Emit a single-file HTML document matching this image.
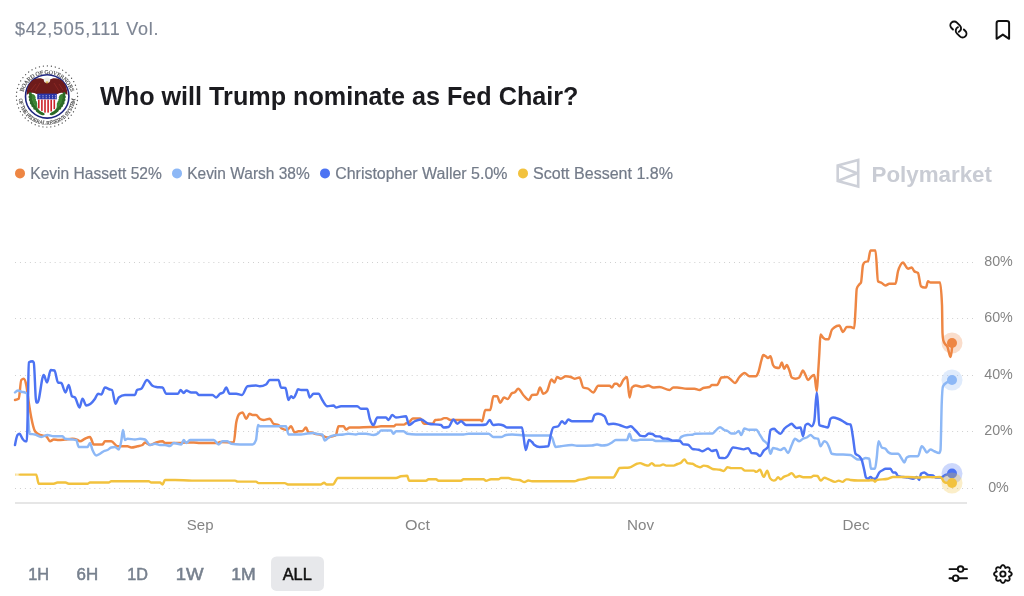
<!DOCTYPE html>
<html><head><meta charset="utf-8">
<style>
html,body{margin:0;padding:0;background:#fff;width:1024px;height:596px;overflow:hidden;}
svg{display:block;}
text{font-family:"Liberation Sans",sans-serif;}
svg{will-change:transform;}
.ax{font-size:14.3px;fill:#858585;}
.lg{font-size:15.8px;fill:#737B89;stroke:#737B89;stroke-width:0.2px;}
.btn{font-size:17.4px;font-weight:400;fill:#77808E;stroke:#77808E;stroke-width:0.55px;}
</style></head>
<body>
<svg width="1024" height="596" viewBox="0 0 1024 596">
<rect width="1024" height="596" fill="#fff"/>
<!-- volume -->
<text x="15" y="35.4" textLength="143.5" lengthAdjust="spacing" style="font-size:18px;fill:#7E8694;stroke:#7E8694;stroke-width:0.15px">$42,505,111 Vol.</text>
<!-- link icon -->
<g fill="none" stroke="#111" stroke-width="1.9" stroke-linecap="round" transform="translate(958.4,29.5) rotate(45)">
  <path d="M-3.8,3.85 h-2.15 a3.85,3.85 0 0 1 0,-7.7 h4.3 a3.85,3.85 0 0 1 3.596,5.228" />
  <path d="M3.8,-3.85 h2.15 a3.85,3.85 0 0 1 0,7.7 h-4.3 a3.85,3.85 0 0 1 -3.596,-5.228" />
</g>
<!-- bookmark -->
<path d="M996.6,38.8 V23.3 a2.3,2.3 0 0 1 2.3,-2.3 h7.9 a2.3,2.3 0 0 1 2.3,2.3 V38.8 l-6.25,-4.2 z" fill="none" stroke="#111" stroke-width="2" stroke-linejoin="round"/>
<!-- seal -->
<g id="seal">
  <circle cx="47" cy="96.5" r="31.5" fill="#fff"/>
  <circle cx="47" cy="96.5" r="30.6" fill="none" stroke="#555" stroke-width="1.35" stroke-dasharray="0.01 4.0" stroke-linecap="round"/>
  <defs>
    <path id="topArc" d="M22.8,103 A24.6,24.6 0 1 1 71.2,103"/>
    <path id="botArc" d="M18.8,96.5 A28.2,28.2 0 0 0 75.2,96.5"/>
  </defs>
  <text style="font-family:'Liberation Serif',serif;font-size:5.8px;font-weight:400;fill:#4a4a4a;stroke:#4a4a4a;stroke-width:0.15px"><textPath href="#topArc" startOffset="50%" text-anchor="middle" textLength="64" lengthAdjust="spacing">BOARD OF GOVERNORS</textPath></text>
  <text style="font-family:'Liberation Serif',serif;font-size:5.4px;font-weight:400;fill:#4a4a4a;stroke:#4a4a4a;stroke-width:0.15px"><textPath href="#botArc" startOffset="50%" text-anchor="middle" textLength="84" lengthAdjust="spacing">OF THE FEDERAL RESERVE SYSTEM</textPath></text>
  <circle cx="47.2" cy="96.4" r="21.7" fill="#fff" stroke="#1D2580" stroke-width="1.6"/>
  <!-- eagle wings -->
  <path d="M26.8,95 C26.5,88 29,82 34,79.5 C38,77.8 42,78 44.5,80 L47,82 L49.5,80 C52,78 56,77.8 60,79.5 C65,82 67.6,88 67.3,95 C64.5,92.5 61,92 57.5,94 L36.5,94 C33,92 29.5,92.5 26.8,95 Z" fill="#6E1B1B"/>
  <path d="M31,90 L36,84 M35,91 L40,83 M59,84 L63,90 M54,83 L59,91" stroke="#8E2A24" stroke-width="0.8" fill="none"/>
  <ellipse cx="47" cy="80.2" rx="3.1" ry="2.7" fill="#F1EEE6"/>
  <path d="M45.5,81.5 L47,84 L48.5,81.5Z" fill="#D8B040"/>
  <!-- branches -->
  <g>
    <ellipse cx="30.69" cy="94.66" rx="2.7" ry="1.6" fill="#2C6A27" transform="rotate(61.0 30.69 94.66)"/>
    <ellipse cx="30.65" cy="97.72" rx="2.7" ry="1.6" fill="#2C6A27" transform="rotate(50.4 30.65 97.72)"/>
    <ellipse cx="31.18" cy="100.74" rx="2.7" ry="1.6" fill="#2C6A27" transform="rotate(39.9 31.18 100.74)"/>
    <ellipse cx="32.24" cy="103.60" rx="2.7" ry="1.6" fill="#2C6A27" transform="rotate(29.3 32.24 103.60)"/>
    <ellipse cx="33.82" cy="106.22" rx="2.7" ry="1.6" fill="#2C6A27" transform="rotate(18.7 33.82 106.22)"/>
    <ellipse cx="35.85" cy="108.51" rx="2.7" ry="1.6" fill="#2C6A27" transform="rotate(8.1 35.85 108.51)"/>
    <ellipse cx="38.26" cy="110.39" rx="2.7" ry="1.6" fill="#2C6A27" transform="rotate(-2.4 38.26 110.39)"/>
    <ellipse cx="40.98" cy="111.79" rx="2.7" ry="1.6" fill="#2C6A27" transform="rotate(-13.0 40.98 111.79)"/>
    <ellipse cx="33.60" cy="96.40" rx="2.7" ry="1.6" fill="#3B8433" transform="rotate(55.0 33.60 96.40)"/>
    <ellipse cx="33.82" cy="98.84" rx="2.7" ry="1.6" fill="#3B8433" transform="rotate(44.7 33.82 98.84)"/>
    <ellipse cx="34.48" cy="101.20" rx="2.7" ry="1.6" fill="#3B8433" transform="rotate(34.3 34.48 101.20)"/>
    <ellipse cx="35.54" cy="103.40" rx="2.7" ry="1.6" fill="#3B8433" transform="rotate(24.0 35.54 103.40)"/>
    <ellipse cx="36.99" cy="105.38" rx="2.7" ry="1.6" fill="#3B8433" transform="rotate(13.7 36.99 105.38)"/>
    <ellipse cx="38.76" cy="107.07" rx="2.7" ry="1.6" fill="#3B8433" transform="rotate(3.3 38.76 107.07)"/>
    <ellipse cx="40.82" cy="108.41" rx="2.7" ry="1.6" fill="#3B8433" transform="rotate(-7.0 40.82 108.41)"/>
    <ellipse cx="63.71" cy="94.66" rx="2.7" ry="1.6" fill="#2C6A27" transform="rotate(-61.0 63.71 94.66)"/>
    <ellipse cx="63.75" cy="97.72" rx="2.7" ry="1.6" fill="#2C6A27" transform="rotate(-50.4 63.75 97.72)"/>
    <ellipse cx="63.22" cy="100.74" rx="2.7" ry="1.6" fill="#2C6A27" transform="rotate(-39.9 63.22 100.74)"/>
    <ellipse cx="62.16" cy="103.60" rx="2.7" ry="1.6" fill="#2C6A27" transform="rotate(-29.3 62.16 103.60)"/>
    <ellipse cx="60.58" cy="106.22" rx="2.7" ry="1.6" fill="#2C6A27" transform="rotate(-18.7 60.58 106.22)"/>
    <ellipse cx="58.55" cy="108.51" rx="2.7" ry="1.6" fill="#2C6A27" transform="rotate(-8.1 58.55 108.51)"/>
    <ellipse cx="56.14" cy="110.39" rx="2.7" ry="1.6" fill="#2C6A27" transform="rotate(2.4 56.14 110.39)"/>
    <ellipse cx="53.42" cy="111.79" rx="2.7" ry="1.6" fill="#2C6A27" transform="rotate(13.0 53.42 111.79)"/>
    <ellipse cx="60.80" cy="96.40" rx="2.7" ry="1.6" fill="#3B8433" transform="rotate(-55.0 60.80 96.40)"/>
    <ellipse cx="60.58" cy="98.84" rx="2.7" ry="1.6" fill="#3B8433" transform="rotate(-44.7 60.58 98.84)"/>
    <ellipse cx="59.92" cy="101.20" rx="2.7" ry="1.6" fill="#3B8433" transform="rotate(-34.3 59.92 101.20)"/>
    <ellipse cx="58.86" cy="103.40" rx="2.7" ry="1.6" fill="#3B8433" transform="rotate(-24.0 58.86 103.40)"/>
    <ellipse cx="57.41" cy="105.38" rx="2.7" ry="1.6" fill="#3B8433" transform="rotate(-13.7 57.41 105.38)"/>
    <ellipse cx="55.64" cy="107.07" rx="2.7" ry="1.6" fill="#3B8433" transform="rotate(-3.3 55.64 107.07)"/>
    <ellipse cx="53.58" cy="108.41" rx="2.7" ry="1.6" fill="#3B8433" transform="rotate(7.0 53.58 108.41)"/>
    <ellipse cx="42" cy="113.6" rx="2.8" ry="1.5" fill="#2C6A27" transform="rotate(15 42 113.6)"/>
    <ellipse cx="52.4" cy="113.6" rx="2.8" ry="1.5" fill="#2C6A27" transform="rotate(-15 52.4 113.6)"/>
    <ellipse cx="38.5" cy="111.5" rx="2.8" ry="1.5" fill="#2C6A27" transform="rotate(35 38.5 111.5)"/>
    <ellipse cx="55.9" cy="111.5" rx="2.8" ry="1.5" fill="#2C6A27" transform="rotate(-35 55.9 111.5)"/>
  </g>
  <!-- shield -->
  <path d="M37.2,93.6 H56.8 V99.6 H37.2 Z" fill="#2A35A8"/>
  <path d="M37.2,99.6 H56.8 V106 C56.8,110 52.5,112.5 47,113.6 C41.5,112.5 37.2,110 37.2,106 Z" fill="#fff"/>
  <g fill="#CC2229">
    <rect x="38" y="99.6" width="1.6" height="8.8"/>
    <rect x="41.1" y="99.6" width="1.6" height="11.3"/>
    <rect x="44.2" y="99.6" width="1.6" height="13"/>
    <rect x="47.3" y="99.6" width="1.6" height="13"/>
    <rect x="50.4" y="99.6" width="1.6" height="11.8"/>
    <rect x="53.5" y="99.6" width="1.6" height="9.5"/>
  </g>
  <g fill="#E8E8F4">
    <circle cx="39.8" cy="95.7" r="0.55"/><circle cx="43" cy="95.7" r="0.55"/><circle cx="46.2" cy="95.7" r="0.55"/><circle cx="49.4" cy="95.7" r="0.55"/><circle cx="52.6" cy="95.7" r="0.55"/><circle cx="55.4" cy="95.7" r="0.55"/>
    <circle cx="39.8" cy="97.8" r="0.55"/><circle cx="43" cy="97.8" r="0.55"/><circle cx="46.2" cy="97.8" r="0.55"/><circle cx="49.4" cy="97.8" r="0.55"/><circle cx="52.6" cy="97.8" r="0.55"/><circle cx="55.4" cy="97.8" r="0.55"/>
  </g>
</g>
<!-- title -->
<text x="100" y="105.3" textLength="478.5" lengthAdjust="spacingAndGlyphs" style="word-spacing:0px;font-size:26.2px;font-weight:700;fill:#1B1B1F">Who will Trump nominate as Fed Chair?</text>
<!-- legend -->
<circle cx="20" cy="173.4" r="5" fill="#EE8643"/>
<text x="30.3" y="178.6" class="lg" textLength="131.5" lengthAdjust="spacingAndGlyphs">Kevin Hassett 52%</text>
<circle cx="177" cy="173.4" r="5" fill="#8DB8F6"/>
<text x="187.2" y="178.6" class="lg" textLength="122.5" lengthAdjust="spacingAndGlyphs">Kevin Warsh 38%</text>
<circle cx="325" cy="173.4" r="5" fill="#4C73F3"/>
<text x="335.2" y="178.6" class="lg" textLength="172.3" lengthAdjust="spacingAndGlyphs">Christopher Waller 5.0%</text>
<circle cx="523" cy="173.4" r="5" fill="#F2C23E"/>
<text x="533" y="178.6" class="lg" textLength="140" lengthAdjust="spacingAndGlyphs">Scott Bessent 1.8%</text>
<!-- polymarket logo -->
<g fill="none" stroke="#CDD0D8" stroke-width="2.6" stroke-linejoin="miter">
  <path d="M837.7,165.6 L858.2,160 L858.2,186.6 L837.7,181 Z"/>
  <path d="M837.7,165.6 L857,173.3 L837.7,181" stroke-linejoin="bevel"/>
</g>
<text x="871.5" y="181.6" textLength="120.5" lengthAdjust="spacingAndGlyphs" style="font-size:22.6px;font-weight:700;fill:#C9CCD4">Polymarket</text>
<line x1="15" y1="262.5" x2="975" y2="262.5" stroke="#D0D0D0" stroke-width="1" stroke-dasharray="1 3.9586"/>
<text x="998.5" y="266.4" text-anchor="middle" class="ax">80%</text>
<line x1="15" y1="318.5" x2="975" y2="318.5" stroke="#D0D0D0" stroke-width="1" stroke-dasharray="1 3.9586"/>
<text x="998.5" y="322.4" text-anchor="middle" class="ax">60%</text>
<line x1="15" y1="375.5" x2="975" y2="375.5" stroke="#D0D0D0" stroke-width="1" stroke-dasharray="1 3.9586"/>
<text x="998.5" y="379.4" text-anchor="middle" class="ax">40%</text>
<line x1="15" y1="431.5" x2="975" y2="431.5" stroke="#D0D0D0" stroke-width="1" stroke-dasharray="1 3.9586"/>
<text x="998.5" y="435.4" text-anchor="middle" class="ax">20%</text>
<line x1="15" y1="488.5" x2="975" y2="488.5" stroke="#D0D0D0" stroke-width="1" stroke-dasharray="1 3.9586"/>
<text x="998.5" y="492.4" text-anchor="middle" class="ax">0%</text>
<rect x="15" y="502" width="952" height="2" fill="#E6E6E6"/>
<text x="186.8" y="530" textLength="26.7" lengthAdjust="spacingAndGlyphs" class="ax">Sep</text>
<text x="405.1" y="530" textLength="25.0" lengthAdjust="spacingAndGlyphs" class="ax">Oct</text>
<text x="627.1" y="530" textLength="27.0" lengthAdjust="spacingAndGlyphs" class="ax">Nov</text>
<text x="842.5" y="530" textLength="27.0" lengthAdjust="spacingAndGlyphs" class="ax">Dec</text>
<path d="M15.00,400.00 C16.25,399.79 17.50,399.58 18.75,398.75 C19.58,398.19 20.42,380.83 21.25,380.00 C22.08,379.17 22.92,378.75 23.75,378.75 C24.58,378.75 25.42,381.04 26.25,385.00 C27.08,388.96 27.92,397.08 28.75,402.50 C29.58,407.92 30.42,413.28 31.25,417.50 C32.50,423.83 33.75,429.38 35.00,431.25 C36.67,433.75 38.33,434.33 40.00,435.00 C42.08,435.83 44.17,435.42 46.25,436.25 C47.50,436.75 48.75,441.25 50.00,441.25 C51.25,441.25 52.50,439.50 53.75,439.50 C55.42,439.50 57.08,440.00 58.75,440.00 C60.83,440.00 62.92,439.69 65.00,439.50 C67.50,439.28 70.00,438.75 72.50,438.75 C74.17,438.75 75.83,439.31 77.50,440.00 C78.33,440.35 79.17,441.25 80.00,441.25 C81.67,441.25 83.33,439.46 85.00,438.75 C86.67,438.04 88.33,437.00 90.00,437.00 C91.25,437.00 92.50,444.50 93.75,444.50 C96.67,444.50 99.58,444.50 102.50,444.50 C103.33,444.50 104.17,441.25 105.00,441.25 C107.08,441.25 109.17,441.25 111.25,441.25 C113.33,441.25 115.42,446.25 117.50,446.25 C120.83,446.25 124.17,446.25 127.50,446.25 C128.75,446.25 130.00,447.50 131.25,447.50 C133.33,447.50 135.42,446.72 137.50,446.25 C139.17,445.87 140.83,445.83 142.50,445.00 C143.33,444.58 144.17,442.50 145.00,442.50 C146.67,442.50 148.33,445.00 150.00,445.00 C152.08,445.00 154.17,443.12 156.25,442.50 C158.33,441.88 160.42,441.25 162.50,441.25 C163.33,441.25 164.17,443.00 165.00,443.00 C170.00,443.00 175.00,443.00 180.00,443.00 C181.67,443.00 183.33,442.50 185.00,442.50 C187.92,442.50 190.83,442.50 193.75,442.50 C195.83,442.50 197.92,443.00 200.00,443.00 C205.83,443.00 211.67,443.00 217.50,443.00 C218.33,443.00 219.17,442.00 220.00,442.00 C224.58,442.00 229.17,442.50 233.75,442.50 C234.58,442.50 235.42,426.99 236.25,422.50 C237.33,416.67 238.42,414.65 239.50,413.75 C240.50,412.92 241.50,412.50 242.50,412.50 C243.75,412.50 245.00,418.75 246.25,418.75 C247.33,418.75 248.42,413.75 249.50,413.75 C250.50,413.75 251.50,415.00 252.50,415.00 C253.67,415.00 254.83,415.00 256.00,415.00 C257.25,415.00 258.50,417.92 259.75,418.75 C261.00,419.58 262.25,420.00 263.50,420.00 C265.58,420.00 267.67,418.75 269.75,418.75 C271.00,418.75 272.25,423.12 273.50,423.75 C275.17,424.58 276.83,424.17 278.50,425.00 C279.75,425.62 281.00,428.12 282.25,428.75 C283.92,429.58 285.58,430.00 287.25,430.00 C288.50,430.00 289.75,426.25 291.00,426.25 C292.25,426.25 293.50,432.50 294.75,432.50 C296.00,432.50 297.25,431.25 298.50,431.25 C299.75,431.25 301.00,431.25 302.25,431.25 C303.50,431.25 304.75,427.50 306.00,427.50 C306.83,427.50 307.67,432.50 308.50,432.50 C309.50,432.50 310.50,432.50 311.50,432.50 C312.58,432.50 313.67,433.40 314.75,433.75 C316.83,434.42 318.92,434.38 321.00,435.00 C323.08,435.62 325.17,437.50 327.25,437.50 C328.92,437.50 330.58,436.75 332.25,436.25 C333.50,435.88 334.75,435.83 336.00,435.00 C336.42,434.72 336.83,431.46 337.25,430.00 C337.67,428.54 338.08,426.25 338.50,426.25 C340.17,426.25 341.83,426.25 343.50,426.25 C344.33,426.25 345.17,429.50 346.00,429.50 C347.25,429.50 348.50,427.50 349.75,427.50 C351.83,427.50 353.92,427.50 356.00,427.50 C361.00,427.50 366.00,427.00 371.00,427.00 C372.67,427.00 374.33,427.00 376.00,427.00 C377.67,427.00 379.33,426.25 381.00,426.25 C382.00,426.25 383.00,426.25 384.00,426.25 C387.33,426.25 390.67,426.25 394.00,426.25 C394.62,426.25 395.25,424.62 395.88,424.62 C398.58,424.62 401.29,424.62 404.00,424.62 C404.83,424.62 405.67,423.48 406.50,423.12 C407.33,422.77 408.17,422.92 409.00,422.50 C410.25,421.88 411.50,418.50 412.75,418.50 C415.25,418.50 417.75,418.50 420.25,418.50 C421.50,418.50 422.75,423.75 424.00,423.75 C426.92,423.75 429.83,423.75 432.75,423.75 C433.58,423.75 434.42,420.17 435.25,420.00 C437.33,419.58 439.42,419.79 441.50,419.38 C442.33,419.21 443.17,418.12 444.00,418.12 C444.83,418.12 445.67,418.12 446.50,418.12 C447.75,418.12 449.00,420.00 450.25,420.00 C460.25,420.00 470.25,420.00 480.25,420.00 C480.88,420.00 481.50,421.25 482.12,421.25 C483.17,421.25 484.21,410.00 485.25,410.00 C486.92,410.00 488.58,410.00 490.25,410.00 C491.29,410.00 492.33,396.25 493.38,396.25 C494.62,396.25 495.88,396.25 497.12,396.25 C498.17,396.25 499.21,402.75 500.25,402.75 C501.50,402.75 502.75,397.50 504.00,397.50 C505.25,397.50 506.50,399.00 507.75,399.00 C509.17,399.00 510.58,393.83 512.00,393.12 C512.83,392.71 513.67,392.92 514.50,392.50 C515.75,391.88 517.00,388.75 518.25,388.75 C519.92,388.75 521.58,393.21 523.25,395.00 C525.17,397.06 527.08,400.00 529.00,400.00 C530.00,400.00 531.00,395.20 532.00,395.00 C533.67,394.67 535.33,394.83 537.00,394.50 C538.00,394.30 539.00,387.50 540.00,387.50 C541.08,387.50 542.17,393.75 543.25,393.75 C544.50,393.75 545.75,392.92 547.00,391.25 C548.50,389.25 550.00,379.50 551.50,379.50 C552.50,379.50 553.50,382.50 554.50,382.50 C555.33,382.50 556.17,377.00 557.00,377.00 C558.25,377.00 559.50,378.75 560.75,378.75 C562.42,378.75 564.08,376.25 565.75,376.25 C567.42,376.25 569.08,376.50 570.75,377.00 C572.00,377.38 573.25,378.75 574.50,378.75 C576.17,378.75 577.83,377.50 579.50,377.50 C580.75,377.50 582.00,386.88 583.25,387.50 C584.92,388.33 586.58,387.92 588.25,388.75 C589.92,389.58 591.58,392.50 593.25,392.50 C594.92,392.50 596.58,385.75 598.25,385.75 C602.00,385.75 605.75,385.75 609.50,385.75 C610.33,385.75 611.17,387.50 612.00,387.50 C612.83,387.50 613.67,383.75 614.50,383.75 C615.33,383.75 616.17,383.75 617.00,383.75 C617.83,383.75 618.67,386.25 619.50,386.25 C620.75,386.25 622.00,381.54 623.25,380.00 C624.50,378.46 625.75,377.00 627.00,377.00 C627.83,377.00 628.67,397.50 629.50,397.50 C630.33,397.50 631.17,388.39 632.00,387.50 C633.25,386.17 634.50,385.50 635.75,385.50 C637.83,385.50 639.92,387.00 642.00,387.00 C644.08,387.00 646.17,385.50 648.25,385.50 C649.92,385.50 651.58,387.50 653.25,387.50 C655.33,387.50 657.42,387.00 659.50,387.00 C662.83,387.00 666.17,390.00 669.50,390.00 C670.75,390.00 672.00,387.50 673.25,387.50 C674.50,387.50 675.75,387.50 677.00,387.50 C680.33,387.50 683.67,388.75 687.00,388.75 C689.50,388.75 692.00,388.75 694.50,388.75 C696.17,388.75 697.83,390.00 699.50,390.00 C700.75,390.00 702.00,388.40 703.25,388.00 C705.33,387.33 707.42,387.67 709.50,387.00 C710.33,386.73 711.17,385.00 712.00,385.00 C713.67,385.00 715.33,385.00 717.00,385.00 C718.50,385.00 720.00,377.77 721.50,377.50 C723.33,377.17 725.17,377.00 727.00,377.00 C728.25,377.00 729.50,378.57 730.75,379.50 C732.17,380.55 733.58,383.00 735.00,383.00 C736.50,383.00 738.00,378.62 739.50,377.00 C741.17,375.20 742.83,373.00 744.50,373.00 C746.17,373.00 747.83,376.25 749.50,376.25 C751.58,376.25 753.67,376.25 755.75,376.25 C756.58,376.25 757.42,374.60 758.25,372.50 C759.33,369.77 760.42,363.47 761.50,360.00 C762.08,358.13 762.67,355.00 763.25,355.00 C764.08,355.00 764.92,355.71 765.75,356.25 C766.50,356.73 767.25,358.00 768.00,358.00 C768.83,358.00 769.67,356.25 770.50,356.25 C771.33,356.25 772.17,363.33 773.00,365.00 C773.83,366.67 774.67,367.28 775.50,367.50 C776.75,367.83 778.00,368.00 779.25,368.00 C780.08,368.00 780.92,362.50 781.75,362.50 C782.58,362.50 783.42,368.75 784.25,368.75 C785.08,368.75 785.92,365.00 786.75,365.00 C787.58,365.00 788.42,367.92 789.25,370.00 C790.08,372.08 790.92,376.94 791.75,377.50 C793.00,378.33 794.25,378.75 795.50,378.75 C796.75,378.75 798.00,378.33 799.25,377.50 C800.50,376.67 801.75,370.50 803.00,370.50 C803.83,370.50 804.67,373.42 805.50,375.00 C806.33,376.58 807.17,380.00 808.00,380.00 C809.25,380.00 810.50,377.12 811.75,376.25 C812.58,375.67 813.42,375.00 814.25,375.00 C815.08,375.00 815.92,391.25 816.75,391.25 C817.17,391.25 817.58,381.04 818.00,375.00 C818.42,368.96 818.83,361.75 819.25,355.00 C819.67,348.25 820.08,334.50 820.50,334.50 C821.33,334.50 822.17,336.71 823.00,337.50 C823.83,338.29 824.67,339.25 825.50,339.25 C826.50,339.25 827.50,339.25 828.50,339.25 C829.58,339.25 830.67,331.95 831.75,330.00 C832.58,328.50 833.42,328.17 834.25,327.50 C835.92,326.17 837.58,325.50 839.25,325.50 C840.50,325.50 841.75,332.00 843.00,332.00 C844.25,332.00 845.50,327.00 846.75,327.00 C848.00,327.00 849.25,327.00 850.50,327.00 C851.75,327.00 853.00,328.25 854.25,328.25 C854.67,328.25 855.08,316.58 855.50,310.00 C855.92,303.42 856.33,290.17 856.75,288.75 C857.58,285.92 858.42,285.64 859.25,284.50 C859.83,283.70 860.42,283.83 861.00,282.50 C861.67,280.98 862.33,267.00 863.00,265.00 C863.67,263.00 864.33,262.33 865.00,262.00 C866.00,261.50 867.00,261.75 868.00,261.25 C868.83,260.83 869.67,250.50 870.50,250.50 C872.17,250.50 873.83,250.50 875.50,250.50 C876.33,250.50 877.17,280.47 878.00,281.25 C879.25,282.42 880.50,282.29 881.75,283.00 C883.00,283.71 884.25,285.50 885.50,285.50 C886.75,285.50 888.00,283.75 889.25,283.75 C891.33,283.75 893.42,283.75 895.50,283.75 C896.33,283.75 897.17,274.38 898.00,271.25 C898.83,268.12 899.67,266.46 900.50,265.00 C901.33,263.54 902.17,262.50 903.00,262.50 C903.67,262.50 904.33,264.17 905.00,265.00 C906.00,266.25 907.00,268.75 908.00,268.75 C909.25,268.75 910.50,267.50 911.75,267.50 C912.58,267.50 913.42,270.47 914.25,271.25 C915.50,272.42 916.75,271.83 918.00,273.00 C919.00,273.93 920.00,285.48 921.00,286.25 C922.08,287.08 923.17,287.50 924.25,287.50 C924.83,287.50 925.42,287.50 926.00,287.50 C926.67,287.50 927.33,281.25 928.00,281.25 C928.83,281.25 929.67,282.50 930.50,282.50 C931.75,282.50 933.00,282.50 934.25,282.50 C936.17,282.50 938.08,282.50 940.00,282.50 C940.67,282.50 941.33,290.00 942.00,305.00 C942.17,308.75 942.33,329.67 942.50,333.00 C942.73,337.67 942.97,339.09 943.20,340.00 C943.97,343.00 944.73,343.29 945.50,344.50 C946.17,345.55 946.83,345.61 947.50,347.00 C948.50,349.08 949.50,357.00 950.50,357.00 C951.00,357.00 951.50,354.00 952.00,348.00 C952.02,347.80 952.03,345.40 952.05,343.00" fill="none" stroke="#EE8643" stroke-width="2.45" stroke-linejoin="round" stroke-linecap="round"/>
<circle cx="952" cy="343" r="10.5" fill="rgba(238,134,67,0.28)"/>
<circle cx="952" cy="343" r="5" fill="#EE8643"/>
<path d="M15.00,392.50 C16.00,391.50 17.00,390.50 18.00,390.50 C19.08,390.50 20.17,391.43 21.25,391.75 C22.50,392.12 23.75,392.00 25.00,392.50 C25.67,392.77 26.33,392.92 27.00,393.75 C27.33,394.17 27.67,406.86 28.00,412.50 C28.50,420.96 29.00,433.61 29.50,433.75 C31.33,434.25 33.17,434.02 35.00,434.50 C37.08,435.04 39.17,437.00 41.25,437.00 C43.33,437.00 45.42,435.00 47.50,435.00 C49.58,435.00 51.67,436.25 53.75,436.25 C56.67,436.25 59.58,436.25 62.50,436.25 C63.33,436.25 64.17,438.58 65.00,438.75 C67.50,439.25 70.00,439.19 72.50,439.50 C73.75,439.65 75.00,439.67 76.25,440.00 C77.08,440.22 77.92,447.00 78.75,447.00 C81.67,447.00 84.58,447.00 87.50,447.00 C88.33,447.00 89.17,443.00 90.00,443.00 C90.83,443.00 91.67,448.11 92.50,450.00 C93.75,452.83 95.00,455.50 96.25,455.50 C97.50,455.50 98.75,454.46 100.00,453.75 C101.25,453.04 102.50,451.88 103.75,451.25 C105.00,450.62 106.25,450.62 107.50,450.00 C108.75,449.38 110.00,447.83 111.25,447.50 C112.50,447.17 113.75,447.00 115.00,447.00 C116.25,447.00 117.50,449.50 118.75,449.50 C119.58,449.50 120.42,445.53 121.25,441.25 C121.83,438.25 122.42,430.00 123.00,430.00 C123.67,430.00 124.33,440.00 125.00,440.00 C125.83,440.00 126.67,438.75 127.50,438.75 C130.00,438.75 132.50,439.50 135.00,439.50 C136.67,439.50 138.33,438.75 140.00,438.75 C141.67,438.75 143.33,439.00 145.00,439.50 C146.67,440.00 148.33,445.00 150.00,445.00 C151.67,445.00 153.33,443.75 155.00,443.75 C156.67,443.75 158.33,445.00 160.00,445.00 C161.67,445.00 163.33,445.00 165.00,445.00 C166.67,445.00 168.33,446.00 170.00,446.00 C171.25,446.00 172.50,443.00 173.75,443.00 C176.25,443.00 178.75,444.50 181.25,444.50 C182.08,444.50 182.92,440.00 183.75,440.00 C184.58,440.00 185.42,443.00 186.25,443.00 C187.50,443.00 188.75,440.00 190.00,440.00 C192.50,440.00 195.00,440.00 197.50,440.00 C202.92,440.00 208.33,440.00 213.75,440.00 C215.42,440.00 217.08,444.50 218.75,444.50 C220.00,444.50 221.25,441.25 222.50,441.25 C224.17,441.25 225.83,441.25 227.50,441.25 C228.75,441.25 230.00,443.54 231.25,443.75 C234.17,444.25 237.08,444.50 240.00,444.50 C244.17,444.50 248.33,444.50 252.50,444.50 C253.67,444.50 254.83,443.00 256.00,440.00 C256.67,438.29 257.33,425.00 258.00,425.00 C258.58,425.00 259.17,426.25 259.75,426.25 C261.83,426.25 263.92,426.25 266.00,426.25 C272.67,426.25 279.33,426.25 286.00,426.25 C286.83,426.25 287.67,434.50 288.50,434.50 C292.67,434.50 296.83,434.50 301.00,434.50 C302.67,434.50 304.33,433.97 306.00,433.75 C308.50,433.43 311.00,433.00 313.50,433.00 C314.33,433.00 315.17,433.55 316.00,433.75 C318.08,434.25 320.17,434.00 322.25,434.50 C323.08,434.70 323.92,440.50 324.75,440.50 C326.00,440.50 327.25,438.31 328.50,437.50 C331.00,435.89 333.50,435.33 336.00,435.00 C338.50,434.67 341.00,434.79 343.50,434.50 C345.17,434.31 346.83,433.75 348.50,433.75 C351.00,433.75 353.50,434.50 356.00,434.50 C356.83,434.50 357.67,433.75 358.50,433.75 C361.00,433.75 363.50,433.75 366.00,433.75 C368.50,433.75 371.00,435.00 373.50,435.00 C375.17,435.00 376.83,434.33 378.50,433.00 C379.33,432.33 380.17,430.50 381.00,430.50 C384.33,430.50 387.67,430.50 391.00,430.50 C391.83,430.50 392.67,433.75 393.50,433.75 C394.33,433.75 395.17,431.25 396.00,431.25 C398.50,431.25 401.00,431.25 403.50,431.25 C404.75,431.25 406.00,433.54 407.25,433.75 C410.17,434.25 413.08,434.50 416.00,434.50 C421.00,434.50 426.00,434.50 431.00,434.50 C435.17,434.50 439.33,434.50 443.50,434.50 C447.67,434.50 451.83,434.50 456.00,434.50 C458.50,434.50 461.00,434.50 463.50,434.50 C465.17,434.50 466.83,433.75 468.50,433.75 C475.17,433.75 481.83,433.75 488.50,433.75 C490.17,433.75 491.83,437.00 493.50,437.00 C496.00,437.00 498.50,437.00 501.00,437.00 C502.67,437.00 504.33,435.28 506.00,435.00 C508.00,434.67 510.00,434.50 512.00,434.50 C517.00,434.50 522.00,435.50 527.00,435.50 C534.50,435.50 542.00,435.50 549.50,435.50 C550.33,435.50 551.17,436.26 552.00,437.50 C553.25,439.37 554.50,447.00 555.75,447.00 C557.42,447.00 559.08,446.48 560.75,446.25 C564.50,445.73 568.25,445.00 572.00,445.00 C573.67,445.00 575.33,445.75 577.00,445.75 C582.00,445.75 587.00,445.67 592.00,445.50 C593.67,445.44 595.33,444.50 597.00,444.50 C598.67,444.50 600.33,445.50 602.00,445.50 C603.67,445.50 605.33,445.33 607.00,445.00 C608.67,444.67 610.33,443.49 612.00,442.50 C613.25,441.76 614.50,440.00 615.75,440.00 C617.42,440.00 619.08,440.00 620.75,440.00 C622.83,440.00 624.92,440.00 627.00,440.00 C627.83,440.00 628.67,433.75 629.50,433.75 C630.33,433.75 631.17,439.83 632.00,440.00 C633.67,440.33 635.33,440.50 637.00,440.50 C638.00,440.50 639.00,439.75 640.00,439.75 C644.17,439.75 648.33,439.75 652.50,439.75 C653.54,439.75 654.58,441.00 655.62,441.00 C660.83,441.00 666.04,441.00 671.25,441.00 C673.75,441.00 676.25,440.75 678.75,440.25 C679.58,440.08 680.42,437.38 681.25,436.88 C683.33,435.62 685.42,435.21 687.50,435.00 C689.17,434.83 690.83,434.92 692.50,434.75 C693.33,434.67 694.17,433.77 695.00,433.75 C700.83,433.58 706.67,433.67 712.50,433.50 C713.33,433.48 714.17,431.97 715.00,431.25 C716.67,429.81 718.33,427.25 720.00,427.25 C721.46,427.25 722.92,429.35 724.38,430.00 C725.42,430.47 726.46,430.50 727.50,431.00 C728.75,431.60 730.00,433.50 731.25,433.50 C732.50,433.50 733.75,433.50 735.00,433.50 C736.25,433.50 737.50,431.00 738.75,431.00 C739.58,431.00 740.42,435.00 741.25,435.00 C742.29,435.00 743.33,428.50 744.38,428.50 C745.83,428.50 747.29,429.75 748.75,429.75 C751.25,429.75 753.75,429.75 756.25,429.75 C757.50,429.75 758.75,433.11 760.00,435.00 C761.04,436.57 762.08,438.57 763.12,440.00 C764.75,442.24 766.38,441.67 768.00,445.00 C768.83,446.71 769.67,453.75 770.50,453.75 C771.33,453.75 772.17,448.00 773.00,448.00 C774.25,448.00 775.50,448.42 776.75,448.75 C778.00,449.08 779.25,450.00 780.50,450.00 C781.75,450.00 783.00,448.00 784.25,448.00 C785.50,448.00 786.75,453.00 788.00,453.00 C789.25,453.00 790.50,447.53 791.75,445.00 C792.83,442.81 793.92,438.75 795.00,438.75 C796.42,438.75 797.83,441.25 799.25,441.25 C800.50,441.25 801.75,439.38 803.00,438.75 C804.25,438.12 805.50,438.12 806.75,437.50 C808.00,436.88 809.25,435.00 810.50,435.00 C811.75,435.00 813.00,437.50 814.25,438.00 C815.50,438.50 816.75,438.25 818.00,438.75 C818.83,439.08 819.67,446.25 820.50,446.25 C821.75,446.25 823.00,441.25 824.25,441.25 C825.08,441.25 825.92,441.67 826.75,442.50 C827.58,443.33 828.42,445.62 829.25,447.50 C830.08,449.38 830.92,453.50 831.75,453.75 C833.42,454.25 835.08,454.50 836.75,454.50 C838.83,454.50 840.92,454.50 843.00,454.50 C845.50,454.50 848.00,454.67 850.50,455.00 C851.75,455.17 853.00,456.75 854.25,457.50 C855.50,458.25 856.75,459.50 858.00,459.50 C859.25,459.50 860.50,459.50 861.75,459.50 C863.00,459.50 864.25,458.00 865.50,458.00 C866.75,458.00 868.00,458.25 869.25,458.75 C869.83,458.98 870.42,468.75 871.00,468.75 C872.33,468.75 873.67,468.75 875.00,468.75 C875.58,468.75 876.17,462.08 876.75,457.50 C877.33,452.92 877.92,441.25 878.50,441.25 C879.58,441.25 880.67,446.78 881.75,447.50 C883.00,448.33 884.25,447.92 885.50,448.75 C886.33,449.31 887.17,451.22 888.00,452.00 C889.25,453.17 890.50,453.75 891.75,453.75 C893.83,453.75 895.92,453.75 898.00,453.75 C899.25,453.75 900.50,456.96 901.75,458.75 C902.58,459.94 903.42,462.50 904.25,462.50 C905.08,462.50 905.92,458.06 906.75,457.50 C908.00,456.67 909.25,456.25 910.50,456.25 C913.00,456.25 915.50,456.25 918.00,456.25 C919.25,456.25 920.50,446.25 921.75,446.25 C922.58,446.25 923.42,447.71 924.25,448.75 C925.08,449.79 925.92,452.50 926.75,452.50 C928.00,452.50 929.25,449.50 930.50,449.50 C931.75,449.50 933.00,450.73 934.25,451.25 C935.92,451.94 937.58,453.00 939.25,453.00 C939.67,453.00 940.08,452.00 940.50,450.00 C940.92,448.00 941.33,413.12 941.75,402.50 C942.17,391.88 942.58,387.08 943.00,386.25 C944.25,383.75 945.50,383.48 946.75,382.50 C948.42,381.19 950.08,380.60 951.75,380.00" fill="none" stroke="#8DB8F6" stroke-width="2.45" stroke-linejoin="round" stroke-linecap="round"/>
<circle cx="952" cy="380" r="10.5" fill="rgba(141,184,246,0.28)"/>
<circle cx="952" cy="380" r="5" fill="#8DB8F6"/>
<path d="M15.00,445.00 C15.83,440.52 16.67,436.04 17.50,435.00 C18.17,434.17 18.83,433.75 19.50,433.75 C20.50,433.75 21.50,437.45 22.50,438.75 C23.33,439.84 24.17,441.25 25.00,441.25 C25.58,441.25 26.17,441.25 26.75,441.25 C27.17,441.25 27.58,418.18 28.00,400.00 C28.25,389.09 28.50,362.67 28.75,362.50 C30.00,361.67 31.25,361.25 32.50,361.25 C32.92,361.25 33.33,361.67 33.75,362.50 C34.58,364.17 35.42,402.50 36.25,402.50 C36.67,402.50 37.08,402.50 37.50,402.50 C39.58,402.50 41.67,375.00 43.75,375.00 C44.83,375.00 45.92,382.50 47.00,382.50 C48.25,382.50 49.50,370.00 50.75,370.00 C52.00,370.00 53.25,370.17 54.50,370.50 C55.67,370.81 56.83,382.14 58.00,382.50 C59.08,382.83 60.17,382.67 61.25,383.00 C62.67,383.44 64.08,392.50 65.50,392.50 C66.58,392.50 67.67,385.00 68.75,385.00 C69.83,385.00 70.92,395.35 72.00,396.25 C73.00,397.08 74.00,396.67 75.00,397.50 C76.50,398.75 78.00,407.50 79.50,407.50 C80.50,407.50 81.50,398.75 82.50,398.75 C83.75,398.75 85.00,405.50 86.25,405.50 C89.17,405.50 92.08,402.94 95.00,398.75 C96.00,397.31 97.00,393.75 98.00,393.75 C99.08,393.75 100.17,394.50 101.25,394.50 C102.50,394.50 103.75,387.50 105.00,387.50 C106.67,387.50 108.33,389.01 110.00,389.50 C110.67,389.70 111.33,389.67 112.00,390.00 C113.17,390.58 114.33,403.75 115.50,403.75 C116.58,403.75 117.67,398.37 118.75,397.50 C120.83,395.83 122.92,395.00 125.00,395.00 C128.33,395.00 131.67,395.00 135.00,395.00 C135.67,395.00 136.33,390.39 137.00,390.00 C138.42,389.17 139.83,389.58 141.25,388.75 C143.17,387.62 145.08,380.00 147.00,380.00 C148.83,380.00 150.67,384.61 152.50,385.75 C153.75,386.53 155.00,386.80 156.25,387.00 C158.33,387.33 160.42,387.17 162.50,387.50 C163.75,387.70 165.00,393.75 166.25,393.75 C170.17,393.75 174.08,393.75 178.00,393.75 C178.83,393.75 179.67,390.00 180.50,390.00 C181.58,390.00 182.67,393.00 183.75,393.00 C184.58,393.00 185.42,390.50 186.25,390.50 C187.92,390.50 189.58,392.50 191.25,392.50 C192.92,392.50 194.58,392.50 196.25,392.50 C197.08,392.50 197.92,395.00 198.75,395.00 C203.33,395.00 207.92,395.00 212.50,395.00 C213.75,395.00 215.00,397.50 216.25,397.50 C217.50,397.50 218.75,394.59 220.00,393.75 C221.08,393.02 222.17,393.33 223.25,392.50 C224.25,391.73 225.25,387.50 226.25,387.50 C227.33,387.50 228.42,393.75 229.50,393.75 C231.75,393.75 234.00,393.75 236.25,393.75 C238.17,393.75 240.08,395.00 242.00,395.00 C243.83,395.00 245.67,386.57 247.50,386.25 C250.33,385.75 253.17,385.50 256.00,385.50 C257.25,385.50 258.50,386.25 259.75,386.25 C261.83,386.25 263.92,385.67 266.00,384.50 C267.25,383.80 268.50,380.00 269.75,380.00 C272.67,380.00 275.58,380.00 278.50,380.00 C279.33,380.00 280.17,387.31 281.00,387.50 C282.50,387.83 284.00,387.67 285.50,388.00 C286.50,388.22 287.50,400.00 288.50,400.00 C289.33,400.00 290.17,396.25 291.00,396.25 C291.83,396.25 292.67,398.00 293.50,398.00 C294.33,398.00 295.17,395.42 296.00,393.75 C296.67,392.41 297.33,389.25 298.00,389.25 C299.00,389.25 300.00,390.00 301.00,390.00 C303.08,390.00 305.17,390.00 307.25,390.00 C308.08,390.00 308.92,397.50 309.75,397.50 C311.00,397.50 312.25,393.75 313.50,393.75 C315.17,393.75 316.83,393.75 318.50,393.75 C319.75,393.75 321.00,398.14 322.25,400.00 C323.92,402.48 325.58,406.25 327.25,406.25 C329.33,406.25 331.42,405.50 333.50,405.50 C334.33,405.50 335.17,407.50 336.00,407.50 C337.67,407.50 339.33,406.25 341.00,406.25 C346.42,406.25 351.83,406.25 357.25,406.25 C358.50,406.25 359.75,408.75 361.00,408.75 C363.08,408.75 365.17,408.75 367.25,408.75 C368.08,408.75 368.92,416.19 369.75,418.75 C371.00,422.58 372.25,425.00 373.50,425.00 C374.75,425.00 376.00,417.50 377.25,417.50 C380.17,417.50 383.08,417.50 386.00,417.50 C386.83,417.50 387.67,420.00 388.50,420.00 C389.75,420.00 391.00,415.00 392.25,415.00 C393.50,415.00 394.75,417.50 396.00,417.50 C399.33,417.50 402.67,416.25 406.00,416.25 C407.00,416.25 408.00,425.00 409.00,425.00 C410.92,425.00 412.83,422.16 414.75,421.25 C416.83,420.26 418.92,419.50 421.00,419.50 C423.50,419.50 426.00,423.25 428.50,423.75 C432.67,424.58 436.83,424.17 441.00,425.00 C441.83,425.17 442.67,427.50 443.50,427.50 C445.17,427.50 446.83,427.33 448.50,427.00 C450.17,426.67 451.83,419.50 453.50,419.50 C454.75,419.50 456.00,423.75 457.25,423.75 C458.50,423.75 459.75,421.25 461.00,421.25 C462.67,421.25 464.33,425.00 466.00,425.00 C471.00,425.00 476.00,425.00 481.00,425.00 C482.67,425.00 484.33,424.83 486.00,424.50 C487.25,424.25 488.50,420.00 489.75,420.00 C490.83,420.00 491.92,425.00 493.00,425.00 C494.83,425.00 496.67,424.50 498.50,424.50 C500.17,424.50 501.83,424.85 503.50,425.50 C504.75,425.99 506.00,427.50 507.25,427.50 C508.83,427.50 510.42,427.50 512.00,427.50 C515.33,427.50 518.67,427.50 522.00,427.50 C523.25,427.50 524.50,450.00 525.75,450.00 C526.83,450.00 527.92,440.00 529.00,440.00 C530.00,440.00 531.00,441.04 532.00,442.00 C532.83,442.80 533.67,444.33 534.50,445.00 C536.17,446.33 537.83,447.00 539.50,447.00 C542.42,447.00 545.33,446.75 548.25,446.25 C549.08,446.11 549.92,438.12 550.75,435.00 C551.58,431.88 552.42,427.92 553.25,427.50 C554.92,426.67 556.58,427.08 558.25,426.25 C559.50,425.62 560.75,421.25 562.00,421.25 C563.00,421.25 564.00,423.75 565.00,423.75 C566.08,423.75 567.17,419.50 568.25,419.50 C569.50,419.50 570.75,421.25 572.00,421.25 C578.67,421.25 585.33,421.25 592.00,421.25 C592.83,421.25 593.67,415.56 594.50,415.00 C595.75,414.17 597.00,413.75 598.25,413.75 C600.33,413.75 602.42,414.58 604.50,416.25 C605.75,417.25 607.00,424.25 608.25,424.25 C609.92,424.25 611.58,423.75 613.25,423.75 C615.33,423.75 617.42,424.46 619.50,425.00 C622.00,425.65 624.50,427.50 627.00,427.50 C628.25,427.50 629.50,426.25 630.75,426.25 C632.00,426.25 633.25,428.29 634.50,429.50 C636.17,431.11 637.83,432.94 639.50,435.00 C639.67,435.21 639.83,435.58 640.00,435.62 C641.67,436.04 643.33,436.25 645.00,436.25 C646.25,436.25 647.50,433.50 648.75,433.50 C650.00,433.50 651.25,433.67 652.50,434.00 C653.54,434.28 654.58,436.13 655.62,436.25 C657.08,436.42 658.54,436.33 660.00,436.50 C661.04,436.62 662.08,438.38 663.12,438.50 C664.58,438.67 666.04,438.58 667.50,438.75 C669.17,438.94 670.83,440.46 672.50,440.62 C675.00,440.88 677.50,440.75 680.00,441.00 C681.04,441.10 682.08,444.22 683.12,444.38 C684.79,444.62 686.46,444.50 688.12,444.75 C689.58,444.97 691.04,448.65 692.50,449.00 C694.58,449.50 696.67,449.25 698.75,449.75 C700.00,450.05 701.25,451.25 702.50,451.25 C704.38,451.25 706.25,448.50 708.12,448.50 C709.38,448.50 710.62,451.00 711.88,451.00 C713.33,451.00 714.79,450.00 716.25,450.00 C717.29,450.00 718.33,457.61 719.38,457.75 C721.25,458.00 723.12,458.12 725.00,458.12 C725.83,458.12 726.67,457.08 727.50,456.25 C729.38,454.38 731.25,447.50 733.12,447.50 C734.58,447.50 736.04,447.88 737.50,448.12 C739.58,448.47 741.67,449.38 743.75,449.38 C745.21,449.38 746.67,448.12 748.12,448.12 C749.38,448.12 750.62,452.91 751.88,453.12 C753.33,453.38 754.79,453.25 756.25,453.50 C757.50,453.71 758.75,456.00 760.00,456.00 C761.25,456.00 762.50,452.09 763.75,450.62 C765.17,448.96 766.58,449.38 768.00,446.88 C768.83,445.40 769.67,430.56 770.50,430.00 C771.75,429.17 773.00,428.75 774.25,428.75 C775.08,428.75 775.92,430.53 776.75,431.25 C778.00,432.33 779.25,433.75 780.50,433.75 C781.75,433.75 783.00,430.10 784.25,428.75 C785.92,426.94 787.58,425.97 789.25,425.00 C790.08,424.51 790.92,423.75 791.75,423.75 C792.58,423.75 793.42,425.54 794.25,426.25 C795.08,426.96 795.92,428.00 796.75,428.00 C798.00,428.00 799.25,427.50 800.50,427.50 C801.33,427.50 802.17,436.25 803.00,436.25 C803.83,436.25 804.67,425.83 805.50,425.00 C806.33,424.17 807.17,423.75 808.00,423.75 C809.25,423.75 810.50,426.25 811.75,426.25 C812.58,426.25 813.42,424.58 814.25,421.25 C815.08,417.92 815.92,392.50 816.75,392.50 C817.17,392.50 817.58,399.58 818.00,405.00 C818.42,410.42 818.83,424.72 819.25,425.00 C820.50,425.83 821.75,425.88 823.00,426.25 C824.67,426.75 826.33,427.50 828.00,427.50 C828.83,427.50 829.67,419.58 830.50,418.75 C831.33,417.92 832.17,417.50 833.00,417.50 C834.67,417.50 836.33,418.12 838.00,418.75 C839.67,419.38 841.33,420.26 843.00,421.25 C844.25,421.99 845.50,423.25 846.75,423.75 C848.00,424.25 849.25,424.00 850.50,424.50 C851.33,424.83 852.17,432.62 853.00,437.50 C853.83,442.38 854.67,452.64 855.50,453.75 C856.75,455.42 858.00,454.79 859.25,456.25 C860.08,457.22 860.92,457.71 861.75,460.00 C862.58,462.29 863.42,466.53 864.25,470.00 C864.83,472.43 865.42,476.77 866.00,477.50 C866.67,478.33 867.33,478.75 868.00,478.75 C868.83,478.75 869.67,477.00 870.50,477.00 C871.33,477.00 872.17,478.75 873.00,478.75 C873.83,478.75 874.67,478.75 875.50,478.75 C876.75,478.75 878.00,473.96 879.25,472.50 C880.50,471.04 881.75,470.71 883.00,470.00 C883.83,469.53 884.67,468.75 885.50,468.75 C887.17,468.75 888.83,468.75 890.50,468.75 C891.33,468.75 892.17,472.50 893.00,472.50 C893.83,472.50 894.67,472.50 895.50,472.50 C896.33,472.50 897.17,476.00 898.00,476.25 C899.67,476.75 901.33,476.79 903.00,477.00 C904.67,477.21 906.33,477.21 908.00,477.50 C909.67,477.79 911.33,478.75 913.00,478.75 C914.25,478.75 915.50,477.00 916.75,477.00 C917.58,477.00 918.42,480.00 919.25,480.00 C919.83,480.00 920.42,474.20 921.00,473.75 C922.08,472.92 923.17,472.50 924.25,472.50 C925.50,472.50 926.75,474.75 928.00,475.00 C929.67,475.33 931.33,475.17 933.00,475.50 C933.83,475.67 934.67,477.50 935.50,477.50 C937.17,477.50 938.83,477.50 940.50,477.50 C942.17,477.50 943.83,475.61 945.50,475.00 C947.58,474.24 949.67,473.99 951.75,473.75" fill="none" stroke="#4C73F3" stroke-width="2.45" stroke-linejoin="round" stroke-linecap="round"/>
<circle cx="952" cy="473.5" r="10.5" fill="rgba(76,115,243,0.28)"/>
<circle cx="952" cy="473.5" r="5" fill="#4C73F3"/>
<path d="M20.00,474.60 C25.42,474.60 30.83,474.60 36.25,474.60 C37.08,474.60 37.92,483.75 38.75,483.75 C43.75,483.75 48.75,483.75 53.75,483.75 C55.00,483.75 56.25,482.50 57.50,482.50 C60.17,482.50 62.83,482.50 65.50,482.50 C66.58,482.50 67.67,483.75 68.75,483.75 C75.00,483.75 81.25,483.75 87.50,483.75 C88.33,483.75 89.17,482.50 90.00,482.50 C96.25,482.50 102.50,482.50 108.75,482.50 C109.58,482.50 110.42,481.25 111.25,481.25 C123.75,481.25 136.25,481.25 148.75,481.25 C149.58,481.25 150.42,482.50 151.25,482.50 C154.17,482.50 157.08,482.50 160.00,482.50 C160.83,482.50 161.67,484.50 162.50,484.50 C163.33,484.50 164.17,480.00 165.00,480.00 C168.33,480.00 171.67,480.00 175.00,480.00 C180.67,480.00 186.33,480.60 192.00,480.60 C206.37,480.60 220.73,480.60 235.10,480.60 C235.93,480.60 236.77,481.60 237.60,481.60 C243.73,481.60 249.87,481.60 256.00,481.60 C256.83,481.60 257.67,483.10 258.50,483.10 C267.25,483.10 276.00,483.10 284.75,483.10 C285.80,483.10 286.85,484.40 287.90,484.40 C298.93,484.40 309.97,484.40 321.00,484.40 C322.03,484.40 323.07,482.75 324.10,482.75 C324.93,482.75 325.77,484.40 326.60,484.40 C328.70,484.40 330.80,484.40 332.90,484.40 C334.57,484.40 336.23,477.90 337.90,477.90 C353.27,477.90 368.63,477.90 384.00,477.90 C388.00,477.90 392.00,478.00 396.00,478.00 C397.67,478.00 399.33,476.52 401.00,476.25 C403.08,475.92 405.17,475.75 407.25,475.75 C407.83,475.75 408.42,480.75 409.00,480.75 C414.67,480.75 420.33,480.75 426.00,480.75 C426.83,480.75 427.67,479.25 428.50,479.25 C431.00,479.25 433.50,479.25 436.00,479.25 C436.83,479.25 437.67,480.75 438.50,480.75 C446.00,480.75 453.50,480.75 461.00,480.75 C461.83,480.75 462.67,479.25 463.50,479.25 C470.17,479.25 476.83,479.25 483.50,479.25 C484.33,479.25 485.17,480.75 486.00,480.75 C487.67,480.75 489.33,479.25 491.00,479.25 C493.50,479.25 496.00,479.25 498.50,479.25 C499.33,479.25 500.17,478.00 501.00,478.00 C503.50,478.00 506.00,478.00 508.50,478.00 C509.67,478.00 510.83,479.02 512.00,479.25 C514.50,479.75 517.00,479.50 519.50,480.00 C521.17,480.33 522.83,482.00 524.50,482.00 C525.75,482.00 527.00,480.50 528.25,480.50 C529.50,480.50 530.75,481.25 532.00,481.25 C546.17,481.25 560.33,481.25 574.50,481.25 C575.75,481.25 577.00,480.35 578.25,480.00 C580.75,479.31 583.25,479.44 585.75,478.75 C587.00,478.40 588.25,477.50 589.50,477.50 C597.42,477.50 605.33,477.50 613.25,477.50 C614.50,477.50 615.75,473.93 617.00,472.00 C617.83,470.71 618.67,468.08 619.50,468.00 C622.83,467.67 626.17,467.83 629.50,467.50 C632.00,467.25 634.50,464.48 637.00,463.75 C638.00,463.46 639.00,463.12 640.00,463.12 C641.67,463.12 643.33,464.55 645.00,465.00 C646.04,465.28 647.08,465.62 648.12,465.62 C649.38,465.62 650.62,463.12 651.88,463.12 C652.92,463.12 653.96,465.62 655.00,465.62 C656.67,465.62 658.33,465.62 660.00,465.62 C661.04,465.62 662.08,464.38 663.12,464.38 C664.17,464.38 665.21,465.62 666.25,465.62 C668.75,465.62 671.25,465.62 673.75,465.62 C675.00,465.62 676.25,464.52 677.50,464.00 C678.75,463.48 680.00,463.41 681.25,462.50 C682.29,461.74 683.33,459.38 684.38,459.38 C685.42,459.38 686.46,462.86 687.50,463.12 C689.17,463.54 690.83,463.33 692.50,463.75 C693.75,464.06 695.00,465.42 696.25,466.00 C697.50,466.58 698.75,467.25 700.00,467.25 C701.25,467.25 702.50,465.62 703.75,465.62 C705.00,465.62 706.25,465.84 707.50,466.25 C709.17,466.80 710.83,468.67 712.50,469.00 C715.00,469.50 717.50,469.25 720.00,469.75 C721.25,470.00 722.50,471.00 723.75,471.00 C725.00,471.00 726.25,467.25 727.50,467.25 C728.75,467.25 730.00,468.12 731.25,468.12 C734.58,468.12 737.92,468.12 741.25,468.12 C742.50,468.12 743.75,470.62 745.00,470.62 C747.92,470.62 750.83,470.62 753.75,470.62 C754.58,470.62 755.42,471.88 756.25,471.88 C757.50,471.88 758.75,469.75 760.00,469.75 C761.25,469.75 762.50,476.88 763.75,476.88 C764.92,476.88 766.08,470.62 767.25,470.62 C768.17,470.62 769.08,476.90 770.00,478.12 C771.25,479.79 772.50,480.62 773.75,480.62 C774.38,480.62 775.00,480.41 775.62,480.00 C776.46,479.45 777.29,477.25 778.12,477.25 C778.96,477.25 779.79,479.38 780.62,479.38 C781.67,479.38 782.71,477.52 783.75,476.88 C785.21,475.97 786.67,475.94 788.12,475.25 C789.38,474.65 790.62,473.12 791.88,473.12 C793.12,473.12 794.38,477.25 795.62,477.25 C796.88,477.25 798.12,476.00 799.38,476.00 C800.62,476.00 801.88,477.25 803.12,477.25 C805.83,477.25 808.54,477.25 811.25,477.25 C812.08,477.25 812.92,475.62 813.75,475.62 C815.00,475.62 816.25,475.75 817.50,476.00 C818.54,476.21 819.58,480.62 820.62,480.62 C821.88,480.62 823.12,477.75 824.38,477.75 C825.83,477.75 827.29,478.82 828.75,479.38 C830.83,480.17 832.92,481.88 835.00,481.88 C836.25,481.88 837.50,480.62 838.75,480.62 C840.00,480.62 841.25,481.88 842.50,481.88 C843.75,481.88 845.00,479.38 846.25,479.38 C846.83,479.38 847.42,479.38 848.00,479.38 C848.83,479.38 849.67,479.89 850.50,480.00 C853.00,480.33 855.50,480.50 858.00,480.50 C861.33,480.50 864.67,480.50 868.00,480.50 C869.67,480.50 871.33,480.00 873.00,480.00 C873.67,480.00 874.33,481.75 875.00,481.75 C875.58,481.75 876.17,480.13 876.75,480.00 C880.50,479.17 884.25,479.58 888.00,478.75 C889.67,478.38 891.33,477.00 893.00,477.00 C895.50,477.00 898.00,477.00 900.50,477.00 C903.00,477.00 905.50,477.00 908.00,477.00 C911.33,477.00 914.67,477.50 918.00,477.50 C921.33,477.50 924.67,477.00 928.00,477.00 C929.50,477.00 931.00,477.20 932.50,477.20 C935.00,477.20 937.50,477.00 940.00,477.00 C940.67,477.00 941.33,477.71 942.00,478.60 C942.50,479.27 943.00,480.56 943.50,481.20 C944.33,482.27 945.17,482.74 946.00,482.80 C948.00,482.93 950.00,482.97 952.00,483.00" fill="none" stroke="#F2C23E" stroke-width="2.45" stroke-linejoin="round" stroke-linecap="round"/>
<path d="M15,474.6 H19" stroke="#F2C23E" stroke-opacity="0.55" stroke-width="2.3" stroke-dasharray="1.7 0.6"/>
<circle cx="952" cy="483" r="10.5" fill="rgba(242,194,62,0.28)"/>
<circle cx="952" cy="483" r="5" fill="#F2C23E"/>
<!-- buttons -->
<rect x="271" y="556.5" width="53" height="34.4" rx="5.5" fill="#E7E8EB"/>
<text x="28.2" y="579.8" textLength="20.9" lengthAdjust="spacingAndGlyphs" class="btn">1H</text>
<text x="76.6" y="579.8" textLength="21.6" lengthAdjust="spacingAndGlyphs" class="btn">6H</text>
<text x="127.2" y="579.8" textLength="20.7" lengthAdjust="spacingAndGlyphs" class="btn">1D</text>
<text x="175.7" y="579.8" textLength="27.9" lengthAdjust="spacingAndGlyphs" class="btn">1W</text>
<text x="231.2" y="579.8" textLength="24.5" lengthAdjust="spacingAndGlyphs" class="btn">1M</text>
<text x="282.7" y="579.8" textLength="29.1" lengthAdjust="spacingAndGlyphs" class="btn" style="fill:#111;stroke:#111">ALL</text>
<!-- sliders icon -->
<g fill="none" stroke="#111" stroke-width="1.85" stroke-linecap="round">
  <path d="M949.45,569.07 H957.76 M963.44,569.07 H967.05"/>
  <circle cx="960.6" cy="569.07" r="2.84"/>
  <path d="M949.45,578.2 H952.86 M958.54,578.2 H967.05"/>
  <circle cx="955.7" cy="578.2" r="2.84"/>
</g>
<!-- gear -->
<g fill="none" stroke="#111" stroke-width="1.85" stroke-linejoin="round">
  <path d="M1002.90,565.15 L1003.13,565.17 L1003.36,565.22 L1003.58,565.31 L1003.80,565.43 L1004.01,565.59 L1004.20,565.77 L1004.39,565.98 L1004.56,566.20 L1004.71,566.45 L1004.85,566.71 L1004.98,566.97 L1005.10,567.24 L1005.20,567.50 L1005.30,567.74 L1005.41,567.95 L1005.63,567.88 L1005.87,567.77 L1006.13,567.66 L1006.40,567.56 L1006.68,567.46 L1006.96,567.38 L1007.24,567.32 L1007.52,567.27 L1007.80,567.26 L1008.07,567.27 L1008.32,567.31 L1008.56,567.37 L1008.78,567.47 L1008.98,567.59 L1009.16,567.74 L1009.31,567.92 L1009.43,568.12 L1009.53,568.34 L1009.59,568.58 L1009.63,568.83 L1009.64,569.10 L1009.63,569.38 L1009.58,569.66 L1009.52,569.94 L1009.44,570.22 L1009.34,570.50 L1009.24,570.77 L1009.13,571.03 L1009.02,571.27 L1008.95,571.49 L1009.16,571.60 L1009.40,571.70 L1009.66,571.80 L1009.93,571.92 L1010.19,572.05 L1010.45,572.19 L1010.70,572.34 L1010.92,572.51 L1011.13,572.70 L1011.31,572.89 L1011.47,573.10 L1011.59,573.32 L1011.68,573.54 L1011.73,573.77 L1011.75,574.00 L1011.73,574.23 L1011.68,574.46 L1011.59,574.68 L1011.47,574.90 L1011.31,575.11 L1011.13,575.30 L1010.92,575.49 L1010.70,575.66 L1010.45,575.81 L1010.19,575.95 L1009.93,576.08 L1009.66,576.20 L1009.40,576.30 L1009.16,576.40 L1008.95,576.51 L1009.02,576.73 L1009.13,576.97 L1009.24,577.23 L1009.34,577.50 L1009.44,577.78 L1009.52,578.06 L1009.58,578.34 L1009.63,578.62 L1009.64,578.90 L1009.63,579.17 L1009.59,579.42 L1009.53,579.66 L1009.43,579.88 L1009.31,580.08 L1009.16,580.26 L1008.98,580.41 L1008.78,580.53 L1008.56,580.63 L1008.32,580.69 L1008.07,580.73 L1007.80,580.74 L1007.52,580.73 L1007.24,580.68 L1006.96,580.62 L1006.68,580.54 L1006.40,580.44 L1006.13,580.34 L1005.87,580.23 L1005.63,580.12 L1005.41,580.05 L1005.30,580.26 L1005.20,580.50 L1005.10,580.76 L1004.98,581.03 L1004.85,581.29 L1004.71,581.55 L1004.56,581.80 L1004.39,582.02 L1004.20,582.23 L1004.01,582.41 L1003.80,582.57 L1003.58,582.69 L1003.36,582.78 L1003.13,582.83 L1002.90,582.85 L1002.67,582.83 L1002.44,582.78 L1002.22,582.69 L1002.00,582.57 L1001.79,582.41 L1001.60,582.23 L1001.41,582.02 L1001.24,581.80 L1001.09,581.55 L1000.95,581.29 L1000.82,581.03 L1000.70,580.76 L1000.60,580.50 L1000.50,580.26 L1000.39,580.05 L1000.17,580.12 L999.93,580.23 L999.67,580.34 L999.40,580.44 L999.12,580.54 L998.84,580.62 L998.56,580.68 L998.28,580.73 L998.00,580.74 L997.73,580.73 L997.48,580.69 L997.24,580.63 L997.02,580.53 L996.82,580.41 L996.64,580.26 L996.49,580.08 L996.37,579.88 L996.27,579.66 L996.21,579.42 L996.17,579.17 L996.16,578.90 L996.17,578.62 L996.22,578.34 L996.28,578.06 L996.36,577.78 L996.46,577.50 L996.56,577.23 L996.67,576.97 L996.78,576.73 L996.85,576.51 L996.64,576.40 L996.40,576.30 L996.14,576.20 L995.87,576.08 L995.61,575.95 L995.35,575.81 L995.10,575.66 L994.88,575.49 L994.67,575.30 L994.49,575.11 L994.33,574.90 L994.21,574.68 L994.12,574.46 L994.07,574.23 L994.05,574.00 L994.07,573.77 L994.12,573.54 L994.21,573.32 L994.33,573.10 L994.49,572.89 L994.67,572.70 L994.88,572.51 L995.10,572.34 L995.35,572.19 L995.61,572.05 L995.87,571.92 L996.14,571.80 L996.40,571.70 L996.64,571.60 L996.85,571.49 L996.78,571.27 L996.67,571.03 L996.56,570.77 L996.46,570.50 L996.36,570.22 L996.28,569.94 L996.22,569.66 L996.17,569.38 L996.16,569.10 L996.17,568.83 L996.21,568.58 L996.27,568.34 L996.37,568.12 L996.49,567.92 L996.64,567.74 L996.82,567.59 L997.02,567.47 L997.24,567.37 L997.48,567.31 L997.73,567.27 L998.00,567.26 L998.28,567.27 L998.56,567.32 L998.84,567.38 L999.12,567.46 L999.40,567.56 L999.67,567.66 L999.93,567.77 L1000.17,567.88 L1000.39,567.95 L1000.50,567.74 L1000.60,567.50 L1000.70,567.24 L1000.82,566.97 L1000.95,566.71 L1001.09,566.45 L1001.24,566.20 L1001.41,565.98 L1001.60,565.77 L1001.79,565.59 L1002.00,565.43 L1002.22,565.31 L1002.44,565.22 L1002.67,565.17Z"/>
  <circle cx="1002.9" cy="574.0" r="2.65"/>
</g>
</svg>
</body></html>
